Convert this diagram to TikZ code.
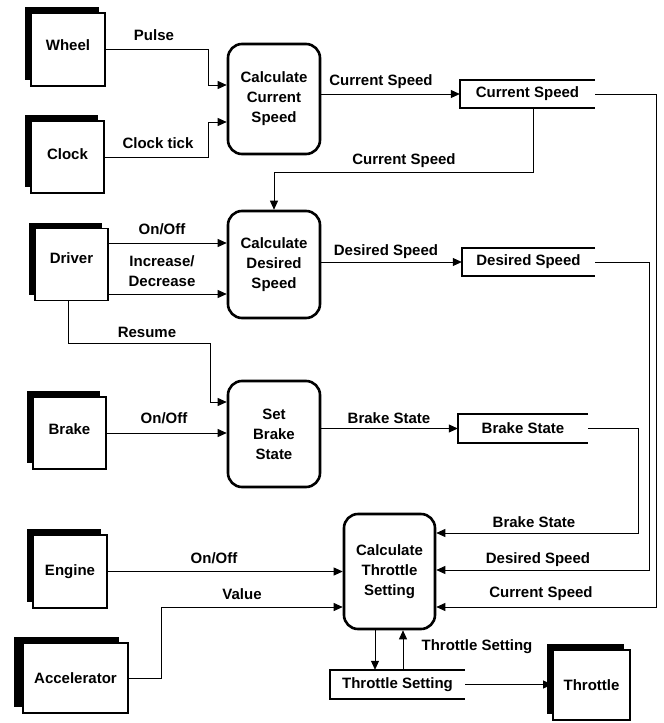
\documentclass[tikz,border=0pt]{standalone}
\usepackage{fontspec}
\setmainfont{Liberation Sans}
\usetikzlibrary{arrows.meta,shadows}
\begin{document}
\begin{tikzpicture}[x=1pt,y=-1pt,
  every node/.style={font=\bfseries\fontsize{15}{20}\selectfont},
  entity/.style={draw, line width=1.8pt, fill=white, inner sep=0pt,
    general shadow={fill=black, shadow xshift=-#1, shadow yshift=6pt}},
  entity/.default=6pt,
  process/.style={draw, line width=2.6pt, rounded corners=14pt, align=center, inner sep=0pt, fill=white},
  store/.style={inner sep=0pt},
  storeline/.style={line width=2.2pt},
  flow/.style={line width=0.8pt, -{Triangle[length=9pt,width=8pt]}},
  lbl/.style={inner sep=0pt, anchor=base}
]
\useasboundingbox (0,0) rectangle (664,723);

% external entities
\node[entity, minimum width=74pt, minimum height=73pt, text depth=8pt] (wheel) at (68,49.5) {Wheel};
\node[entity, minimum width=73pt, minimum height=72pt, text depth=6pt] (clock) at (67.5,157) {Clock};
\node[entity, minimum width=73pt, minimum height=72pt, text depth=12pt] (driver) at (71.5,264.5) {Driver};
\node[entity, minimum width=73pt, minimum height=72pt, text depth=7pt] (brake) at (69.5,433) {Brake};
\node[entity, minimum width=74pt, minimum height=73pt] (engine) at (70,571.5) {Engine};
\node[entity=9pt, minimum width=105pt, minimum height=70pt] (acc) at (75.5,678) {Accelerator};
\node[entity, minimum width=77pt, minimum height=70pt] (throttle) at (591.5,685) {Throttle};

% processes
\node[process, minimum width=92pt, minimum height=110pt] (ccs) at (274,99) {Calculate\\Current\\Speed};
\node[process, minimum width=92pt, minimum height=107pt] (cds) at (274,264.5) {Calculate\\Desired\\Speed};
\node[process, minimum width=92pt, minimum height=106pt] (sbs) at (274,434) {Set\\Brake\\State};
\node[process, minimum width=91pt, minimum height=115pt] (cts) at (389.5,571.5) {Calculate\\Throttle\\Setting};

% data stores
\node[store, minimum width=135pt, minimum height=28pt] (cs) at (527.5,94) {Current Speed};
\node[store, minimum width=133pt, minimum height=28pt] (ds) at (528.5,262) {Desired Speed};
\node[store, minimum width=130pt, minimum height=29pt] (bs) at (523,428.5) {Brake State};
\node[store, minimum width=135pt, minimum height=29pt] (ts) at (397.5,684.5) {Throttle Setting};
\foreach \s in {cs,ds,bs,ts}
  \draw[storeline] (\s.north east) -- (\s.north west) -- (\s.south west) -- (\s.south east);

% flows
\draw[flow] (wheel.east) -| ([xshift=-18pt,yshift=14pt]ccs.west) -- ([yshift=14pt]ccs.west);
\draw[flow] (clock.east) -| ([xshift=-18pt,yshift=-23pt]ccs.west) -- ([yshift=-23pt]ccs.west);
\draw[flow] (ccs.east |- cs.west) -- (cs.west);
\draw[flow] ([xshift=5.5pt]cs.south) |- ([yshift=37pt]cds.north) -- (cds.north);
\draw[flow] (cs.east) -| ([xshift=220pt,yshift=-35.5pt]cts.east) -- ([yshift=-35.5pt]cts.east);
\draw[flow] ([yshift=21.5pt]driver.east) -- ([yshift=21.5pt]cds.west);
\draw[flow] ([yshift=-29.5pt]driver.east) -- ([yshift=-29.5pt]cds.west);
\draw[flow] ([xshift=-3.5pt]driver.south) |- ([xshift=-16pt,yshift=91pt]sbs.west) |- ([yshift=32pt]sbs.west);
\draw[flow] (cds.east |- ds.west) -- (ds.west);
\draw[flow] (ds.east) -| ([xshift=213pt,yshift=1.5pt]cts.east) -- ([yshift=1.5pt]cts.east);
\draw[flow] (brake.east) -- (sbs.west |- brake.east);
\draw[flow] (sbs.east |- bs.west) -- (bs.west);
\draw[flow] (bs.east) -| ([xshift=202pt,yshift=38.5pt]cts.east) -- ([yshift=38.5pt]cts.east);
\draw[flow] (engine.east) -- (cts.west |- engine.east);
\draw[flow] (acc.east) -| ([xshift=-181pt,yshift=-35.5pt]cts.west) -- ([yshift=-35.5pt]cts.west);
\draw[flow] ([xshift=-14.5pt]cts.south) -- ([xshift=-14.5pt]cts.south |- ts.north);
\draw[flow] ([xshift=13.5pt]cts.south |- ts.north) -- ([xshift=13.5pt]cts.south);
\draw[flow] (ts.east) -- (throttle.west |- ts.east);

% labels
\node[lbl] (lpulse) at (154,40) {Pulse};
\node[lbl] (ltick) at (158,148) {Clock tick};
\node[lbl] (lcs1) at (381,85) {Current Speed};
\node[lbl] (lcs2) at (404,164) {Current Speed};
\node[lbl] (lcs3) at (541,597) {Current Speed};
\node[lbl] (lon1) at (162,234) {On/Off};
\node[lbl] (linc) at (162,266) {Increase/};
\node[lbl] (ldec) at (162,286) {Decrease};
\node[lbl] (lres) at (147,337) {Resume};
\node[lbl] (lon2) at (164,423) {On/Off};
\node[lbl] (lds1) at (386,255) {Desired Speed};
\node[lbl] (lbs1) at (389,423) {Brake State};
\node[lbl] (lbs2) at (534,527) {Brake State};
\node[lbl] (lds2) at (538,563) {Desired Speed};
\node[lbl] (lon3) at (214,563) {On/Off};
\node[lbl] (lval) at (242,599) {Value};
\node[lbl] (lts) at (477,650) {Throttle Setting};
\end{tikzpicture}
\end{document}
